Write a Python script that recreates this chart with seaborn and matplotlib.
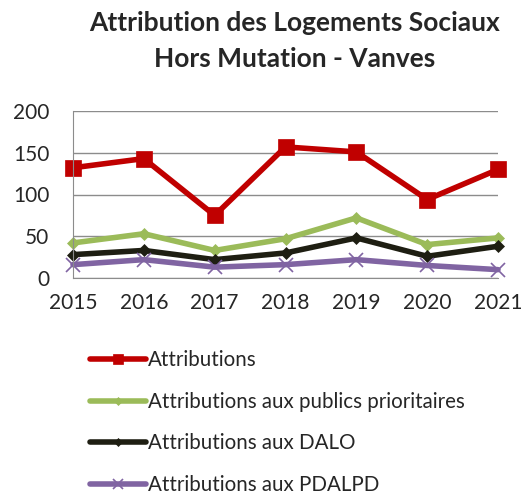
import pandas as pd
import matplotlib.pyplot as plt
import seaborn as sns

# Data
annees = [2015, 2016, 2017, 2018, 2019, 2020, 2021]
attributions = [132, 143, 75, 157, 151, 94, 130]
prioritaires = [42, 53, 33, 47, 72, 40, 48]
dalo = [28, 33, 22, 30, 48, 26, 38]
pdalpd = [16, 22, 13, 16, 22, 15, 10]

series = [
    ('Attributions', attributions, '#C00000', 's', 12),
    ('Attributions aux publics prioritaires', prioritaires, '#9BBB59', 'D', 6),
    ('Attributions aux DALO', dalo, '#1E1E12', 'D', 6),
    ('Attributions aux PDALPD', pdalpd, '#8064A2', 'x', 10),
]

sns.set_style('white')
plt.rcParams['font.family'] = ['Lato', 'DejaVu Sans']

fig = plt.figure(figsize=(5.21, 4.93), dpi=100)
ax = fig.add_axes([73 / 521, 1 - 278 / 493, 425 / 521, 167 / 493])

for nom, valeurs, couleur, marqueur, taille in series:
    df = pd.DataFrame({'annee': annees, 'valeur': valeurs})
    sns.lineplot(data=df, x='annee', y='valeur', ax=ax, color=couleur,
                 linewidth=4, marker=marqueur, markersize=taille,
                 markeredgecolor=couleur, markeredgewidth=1.2 if marqueur == 'x' else 0.5,
                 label=nom, clip_on=False)

ax.set_xlim(2015, 2021)
ax.set_ylim(0, 200)
ax.set_yticks([0, 50, 100, 150, 200])
ax.set_xticks(annees)
ax.set_xlabel('')
ax.set_ylabel('')
ax.yaxis.grid(True, color='#8C8C8C', linewidth=1)
ax.set_axisbelow(True)
for s in ['top', 'right']:
    ax.spines[s].set_visible(False)
for s in ['left', 'bottom']:
    ax.spines[s].set_color('#8C8C8C')
ax.tick_params(axis='x', direction='out', length=6, color='#8C8C8C', labelsize=15, pad=5)
ax.tick_params(axis='y', direction='out', length=8, color='#8C8C8C', labelsize=15, pad=9)

handles, labels = ax.get_legend_handles_labels()
ax.get_legend().remove()
fig.legend(handles, labels, loc='upper left', bbox_to_anchor=(82 / 521, 1 - 342 / 493),
           frameon=False, fontsize=14.8, handlelength=2.7, handletextpad=0.12,
           labelspacing=1.05, borderaxespad=0, markerscale=0.65)

fig.text(295 / 521, 1 - 23 / 493, 'Attribution des Logements Sociaux',
         ha='center', va='center', fontsize=19, fontweight='bold')
fig.text(295 / 521, 1 - 59 / 493, 'Hors Mutation - Vanves',
         ha='center', va='center', fontsize=19, fontweight='bold')

fig.savefig('out.png', dpi=100)
